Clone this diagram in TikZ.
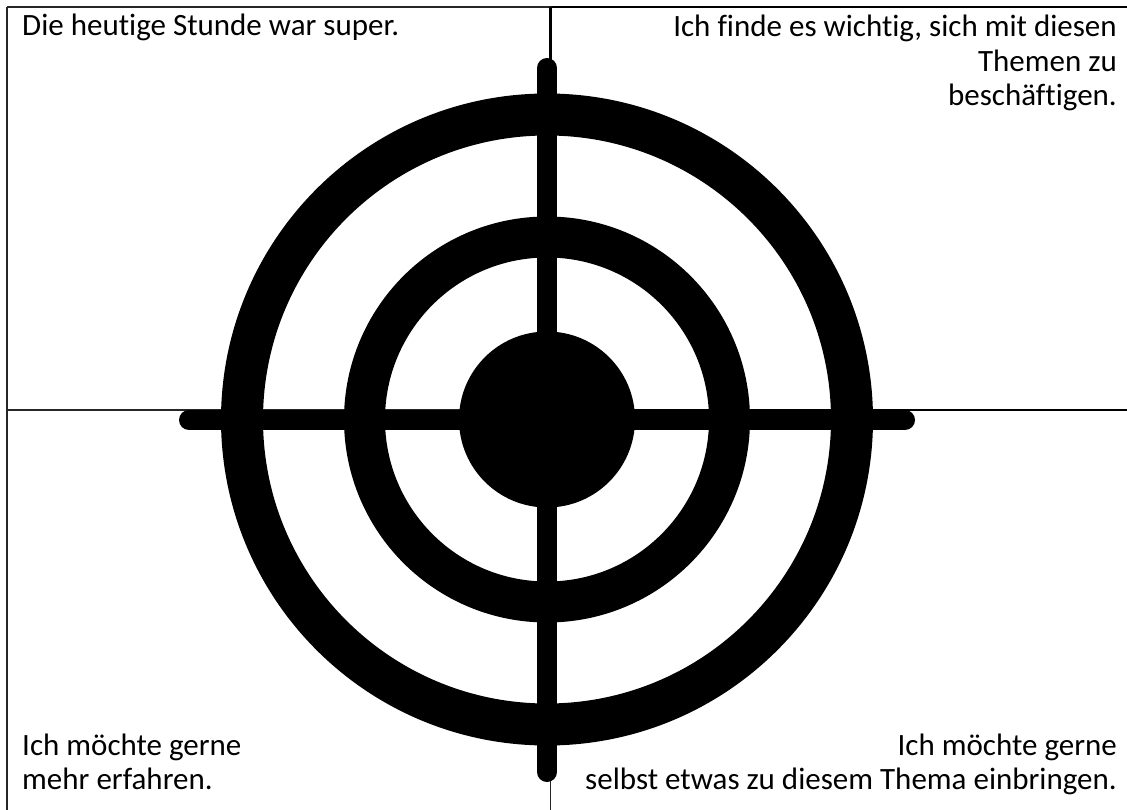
\documentclass[tikz,border=0pt]{standalone}
\usepackage{fontspec}
\setmainfont{Carlito}[Ligatures=NoCommon]
\usetikzlibrary{positioning}

\begin{document}
\begin{tikzpicture}[x=1pt,y=-1pt]
\tikzset{thin rule/.style={line width=1.2pt,draw=black!85},
  thick rule/.style={line width=2.2pt,draw=black},
  ring/.style={draw=black,line width=42pt},
  bar/.style={draw=black,line width=20pt,line cap=round},
  cell/.style={inner sep=0pt,font=\fontsize{31}{34.5}\selectfont}}
\useasboundingbox (0,0) rectangle (1127,810);
% frame of the table
\coordinate (tl) at (7,7);
\coordinate (tm) at (550.5,7);
\coordinate (tr) at (1127,7);
\coordinate (ml) at (7,410);
\coordinate (mm) at (550.5,410);
\coordinate (mr) at (1127,410);
\coordinate (bl) at (7,810);
\coordinate (bm) at (550.5,810);
\draw[thin rule] (tl) -- (tm);
\draw[thick rule] (tm) -- (tr);
\draw[thin rule] (tl) -- (bl);
\draw[thick rule] (tm) -- (mm);
\draw[thin rule] (mm) -- (bm);
\draw[thin rule] (ml) -- (mm);
\draw[thick rule] (mm) -- (mr);
% target
\coordinate (c) at (547,419.5);
\coordinate (up) at (547,68);
\coordinate (down) at (547,772);
\coordinate (left) at (189,420);
\coordinate (right) at (905,420);
\draw[ring] (c) circle[radius=305];
\draw[ring,line width=41pt] (c) circle[radius=182.5];
\fill (c) circle[radius=88];
\draw[bar] (up) -- (down);
\draw[bar] (left) -- (right);
% texts (base = last line)
\node[cell,anchor=base west] (super) at (22,36) {Die heutige Stunde war super.};
\node[cell,align=right,anchor=base east] (wichtig) at (1117,106) {Ich finde es wichtig, sich mit diesen\\Themen zu\\beschäftigen.};
\node[cell,font=\fontsize{31}{33.5}\selectfont,align=left,anchor=base west] (mehr) at (22,789) {Ich möchte gerne\\mehr erfahren.};
\node[cell,font=\fontsize{31}{33.5}\selectfont,align=right,anchor=base east] (selbst) at (1117,789) {Ich möchte gerne\\selbst etwas zu diesem Thema einbringen.};
\end{tikzpicture}
\end{document}
